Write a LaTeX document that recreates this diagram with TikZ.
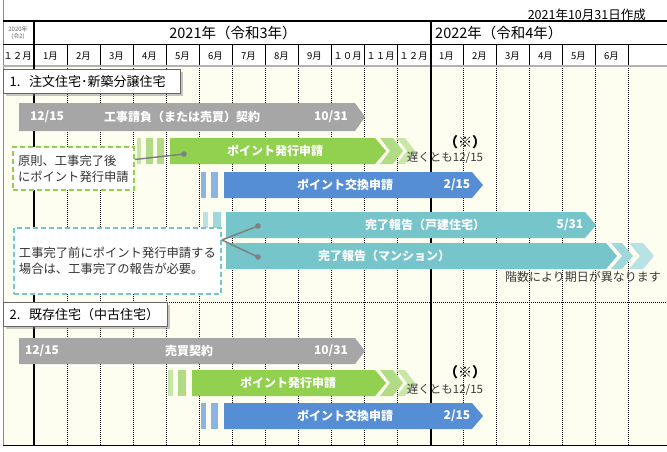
\documentclass[tikz,border=0pt]{standalone}
\usepackage{fontspec}
\setmainfont{Noto Sans CJK JP}
\usetikzlibrary{calc,shadows}

\definecolor{bodyBg}{HTML}{FEFEF0}
\definecolor{barGray}{HTML}{A6A6A6}
\definecolor{barGreen}{HTML}{92D050}
\definecolor{barGreenA}{HTML}{B1DB84}
\definecolor{barGreenB}{HTML}{C8E6A5}
\definecolor{barBlue}{HTML}{558ED5}
\definecolor{barBlueA}{HTML}{8DB3E2}
\definecolor{barTeal}{HTML}{76C5CB}
\definecolor{barTealA}{HTML}{9FD7DB}
\definecolor{barTealB}{HTML}{B9E2E4}
\definecolor{textGray}{HTML}{3A3A3A}

\tikzset{
  gridline/.style={densely dotted, line width=1pt},
  yearline/.style={line width=2pt},
  monthlabel/.style={font=\fontsize{9.5}{10}\selectfont},
  bartext/.style={text=white, inner sep=0pt, font=\bfseries\fontsize{12}{13}\selectfont},
  seclabel/.style={draw=black!60, line width=1.2pt, fill=white, anchor=north west,
    drop shadow={opacity=0.45, shadow xshift=2pt, shadow yshift=-2pt},
    inner xsep=6pt, inner ysep=0pt, minimum height=24pt, text width=#1, align=left,
    font=\fontsize{13}{14}\selectfont},
  notebox/.style={fill=white, line width=2pt, dash pattern=on 5pt off 3pt, anchor=north west,
    inner xsep=5pt, align=left, text=black!80, font=\fontsize{12.3}{16}\selectfont},
  leader/.style={draw=black!50, line width=1.5pt},
  pindot/.style={fill=black!50},
  smalltext/.style={text=textGray, inner sep=0pt, font=\fontsize{11.5}{12}\selectfont},
  marktext/.style={inner sep=0pt, font=\bfseries\fontsize{14}{15}\selectfont},
}

\begin{document}
\begin{tikzpicture}[x=1pt, y=-1pt]
  \useasboundingbox (0,0) rectangle (667,452);
  % body background
  \fill[bodyBg] (3,66) rectangle (667,445);

  % header
  \node[anchor=east, inner sep=0pt, font=\fontsize{12.5}{14}\selectfont] (hdrDate) at (646,15) {2021年10月31日作成};
  \node[inner sep=0pt, text=black!60, font=\fontsize{6}{7}\selectfont, align=center] (hdrPrev) at (18,33) {2020年\\(令2)};
  \node[inner sep=0pt, font=\fontsize{14.5}{15}\selectfont] (y2021) at (233,33) {2021年（令和3年）};
  \node[anchor=west, inner sep=0pt, font=\fontsize{14.5}{15}\selectfont] (y2022) at (435,33) {2022年（令和4年）};

  \foreach \m [count=\i] in {１２月,1月,2月,3月,4月,5月,6月,7月,8月,9月,１０月,１１月,１２月,1月,2月,3月,4月,5月,6月}
    \node[monthlabel] (m\i) at (17.5+33*\i-33,56) {\m};

  \foreach \i in {1,...,18}
    \draw[line width=1pt] (34+33*\i,45) -- (34+33*\i,66);
  \foreach \i in {1,...,11,13,14,15,16,17,18}
    \draw[gridline] (34+33*\i,66) -- (34+33*\i,445);
  \draw[gridline] (3,302) -- (667,302);

  \draw[black!45, line width=1pt] (3,0) -- (3,445);
  \draw[yearline] (3,21) -- (667,21);
  \draw[line width=1pt] (3,45) -- (667,45);
  \draw[black!30, line width=2pt] (3,66) -- (667,66);
  \draw[line width=1pt] (3,445) -- (667,445);
  \draw[yearline] (34,21) -- (34,445);
  \draw[yearline] (431,21) -- (431,445);

  % 1. new houses
  \fill[barGray] (19,103) -- (355,103) -- (365,117) -- (355,131) -- (19,131) -- cycle;
  \node[bartext] (c1from) at (47,117) {12/15};
  \node[bartext] (c1name) at (182,117) {工事請負（または売買）契約};
  \node[bartext] (c1to) at (331,117) {10/31};

  \fill[barGreenB] (137,138) rectangle (141,164);
  \fill[barGreenA] (146,138) rectangle (153,164);
  \fill[barGreenA] (157,138) rectangle (164,164);
  \fill[barGreen] (170,138) -- (375,138) -- (386,151) -- (375,164) -- (170,164) -- cycle;
  \fill[barGreenA] (380,138) -- (393,138) -- (403,151) -- (393,164) -- (380,164) -- (390,151) -- cycle;
  \fill[barGreenB] (397,138) -- (405,138) -- (415,151) -- (405,164) -- (397,164) -- (407,151) -- cycle;
  \node[bartext] (g1name) at (275,151) {ポイント発行申請};
  \node[marktext] (mark1) at (465,142) {（※）};
  \node[smalltext] (late1) at (445,158) {遅くとも12/15};

  \fill[barBlueA] (201,172) rectangle (206,198);
  \fill[barBlueA] (211,172) rectangle (218,198);
  \fill[barBlue] (224,172) -- (472,172) -- (483,185) -- (472,198) -- (224,198) -- cycle;
  \node[bartext] (b1name) at (345,185) {ポイント交換申請};
  \node[bartext] (b1to) at (457,185) {2/15};

  \fill[barTealB] (203,212) rectangle (208,269);
  \fill[barTealA] (213,212) rectangle (221,269);
  \fill[barTeal] (226,212) -- (585,212) -- (596,225) -- (585,238) -- (226,238) -- cycle;
  \node[bartext] (t1name) at (425,225) {完了報告（戸建住宅）};
  \node[bartext] (t1to) at (570,225) {5/31};
  \fill[barTeal] (226,243) -- (606,243) -- (617,256) -- (606,269) -- (226,269) -- cycle;
  \fill[barTealA] (611,243) -- (622,243) -- (633,256) -- (622,269) -- (611,269) -- (622,256) -- cycle;
  \fill[barTealB] (629,243) -- (643,243) -- (654,256) -- (643,269) -- (629,269) -- (640,256) -- cycle;
  \node[bartext] (t2name) at (384,256) {完了報告（マンション）};
  \node[smalltext, font=\fontsize{12}{13}\selectfont] (floors) at (583,277) {階数により期日が異なります};

  \node[seclabel=165pt] (sec1) at (3,69) {1.\ \ 注文住宅･新築分譲住宅};

  \node[notebox, draw=barGreen, minimum width=119pt, minimum height=43pt] (note1) at (12,146)
    {原則、工事完了後\\にポイント発行申請};
  \coordinate (pin1) at (184,154);
  \draw[leader] ($(note1.east)+(0,-9)$) -- (pin1);
  \fill[pindot] (pin1) circle (2.8pt);

  \node[notebox, draw=barTeal, minimum width=203pt, minimum height=66pt] (note2) at (13,227)
    {工事完了前にポイント発行申請する\\場合は、工事完了の報告が必要。};
  \coordinate (pin2a) at (258,226);
  \coordinate (pin2b) at (258,257);
  \draw[leader] ($(note2.east)+(0,-21)$) -- (pin2a);
  \draw[leader] ($(note2.east)+(0,-21)$) -- (pin2b);
  \fill[pindot] (pin2a) circle (2.8pt);
  \fill[pindot] (pin2b) circle (2.8pt);

  % 2. existing houses
  \node[seclabel=152pt] (sec2) at (3,302) {2.\ \ 既存住宅（中古住宅）};

  \fill[barGray] (19,338) -- (355,338) -- (365,351) -- (355,364) -- (19,364) -- cycle;
  \node[bartext] (c2from) at (42,351) {12/15};
  \node[bartext] (c2name) at (189,351) {売買契約};
  \node[bartext] (c2to) at (331,351) {10/31};

  \fill[barGreenB] (168,370) rectangle (173,396);
  \fill[barGreenA] (178,370) rectangle (186,396);
  \fill[barGreen] (192,370) -- (375,370) -- (386,383) -- (375,396) -- (192,396) -- cycle;
  \fill[barGreenA] (380,370) -- (393,370) -- (403,383) -- (393,396) -- (380,396) -- (390,383) -- cycle;
  \fill[barGreenB] (397,370) -- (405,370) -- (415,383) -- (405,396) -- (397,396) -- (407,383) -- cycle;
  \node[bartext] (g2name) at (288,383) {ポイント発行申請};
  \node[marktext] (mark2) at (465,372) {（※）};
  \node[smalltext] (late2) at (445,390) {遅くとも12/15};

  \fill[barBlueA] (201,403) rectangle (206,429);
  \fill[barBlueA] (211,403) rectangle (218,429);
  \fill[barBlue] (224,403) -- (472,403) -- (483,416) -- (472,429) -- (224,429) -- cycle;
  \node[bartext] (b2name) at (345,416) {ポイント交換申請};
  \node[bartext] (b2to) at (457,416) {2/15};
\end{tikzpicture}
\end{document}
